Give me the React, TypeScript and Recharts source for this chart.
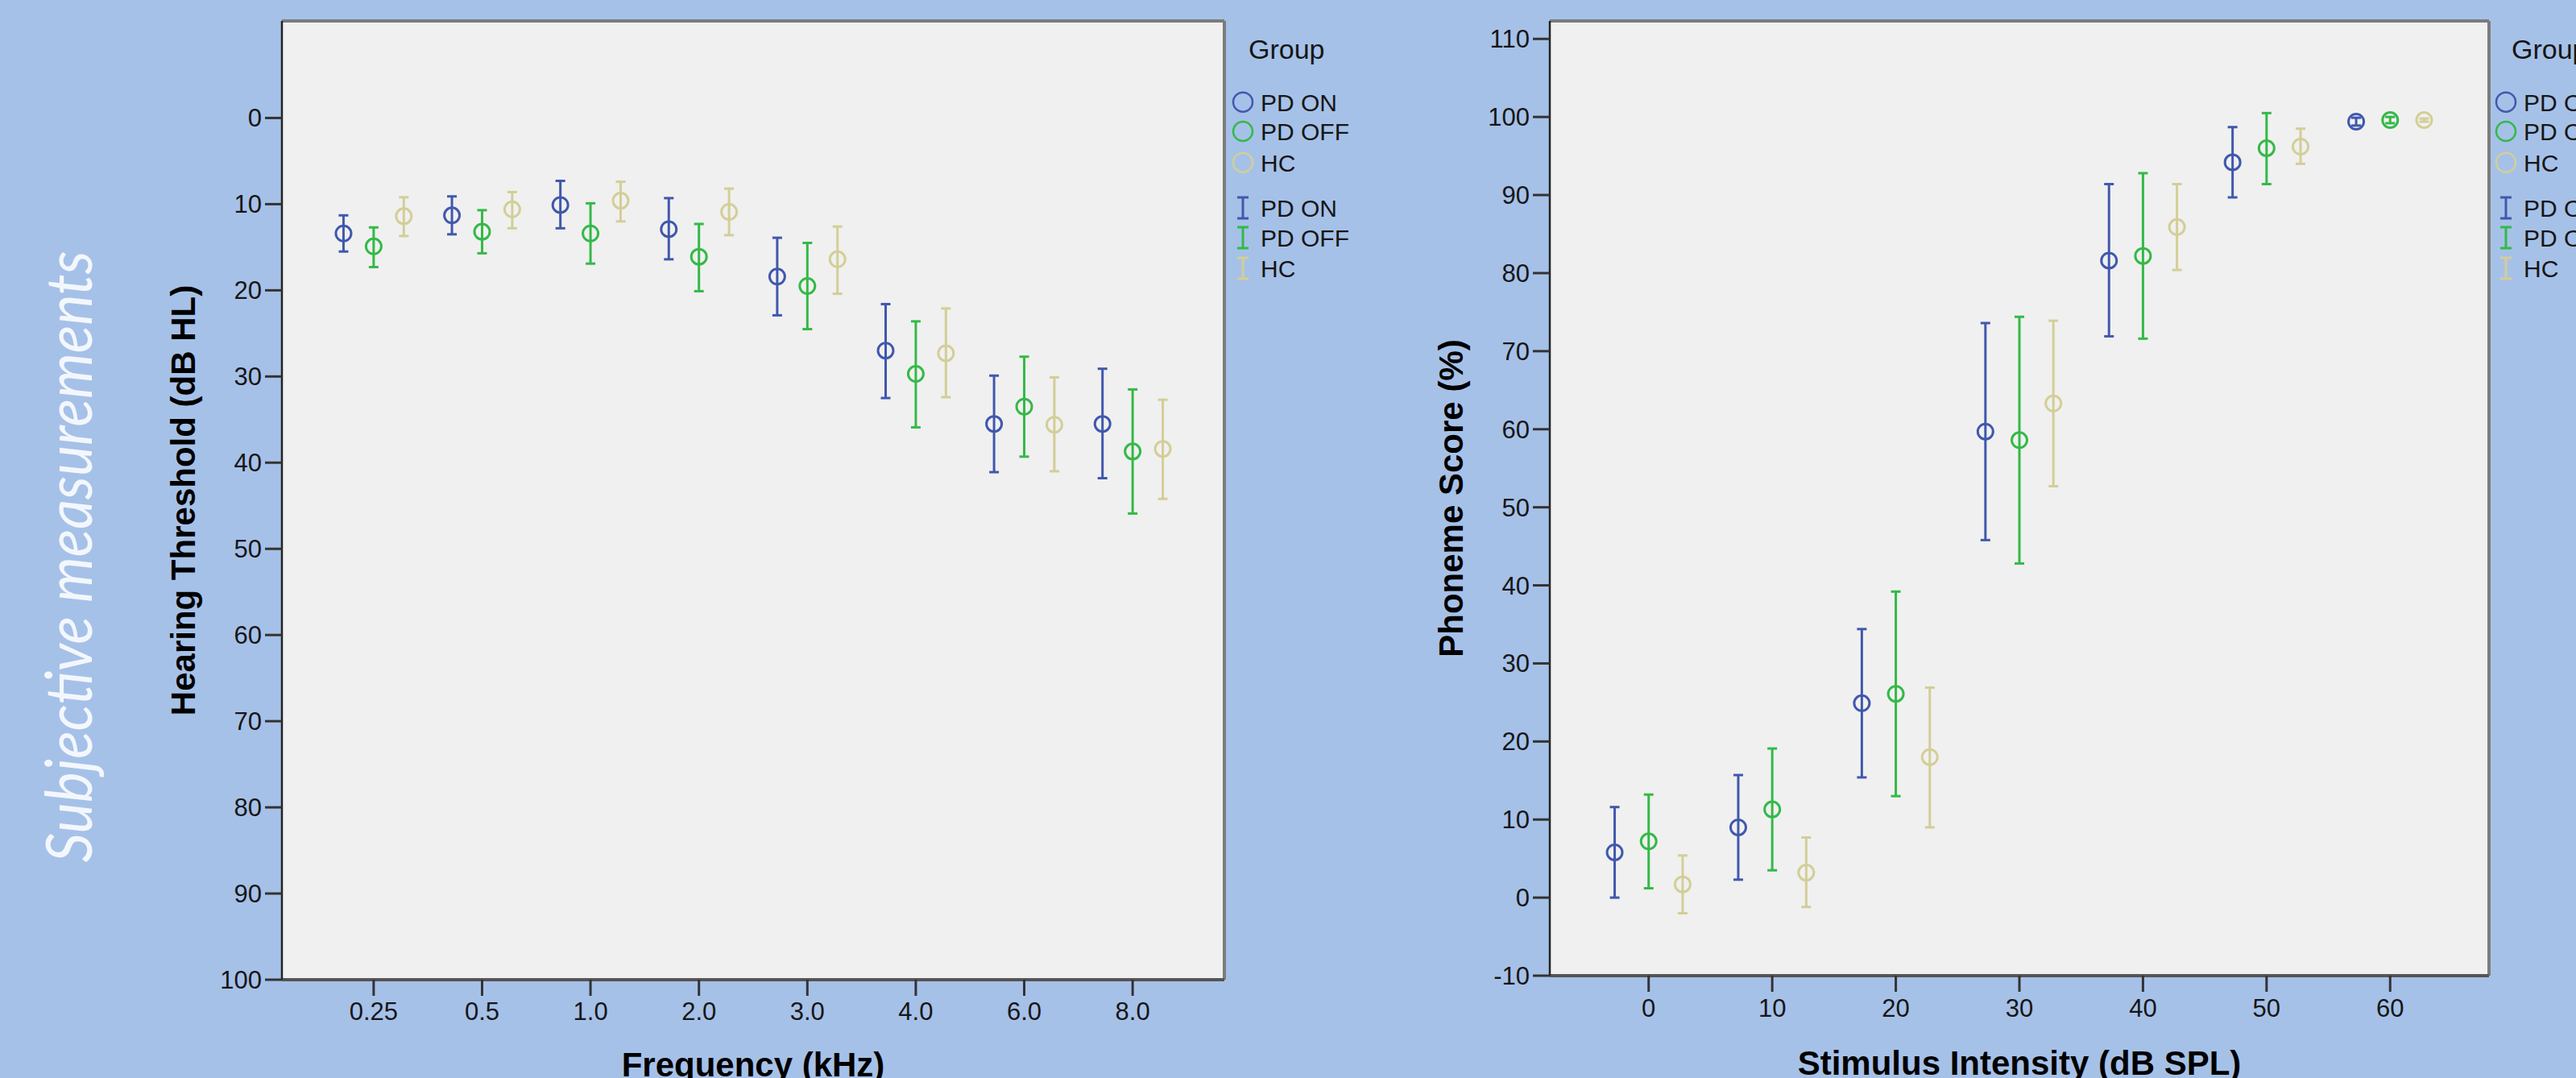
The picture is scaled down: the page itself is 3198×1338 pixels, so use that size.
import React from 'react';
import {
  ScatterChart,
  Scatter,
  XAxis,
  YAxis,
  ErrorBar,
  CartesianGrid,
  ReferenceLine,
  Legend,
} from 'recharts';

// ---------- data ----------
const groups = ['PD ON', 'PD OFF', 'HC'];
const groupColors = ['#4058ad', '#34b947', '#d3ce97'];

// Left chart: hearing threshold (dB HL) by frequency
const freqLabels = ['0.25', '0.5', '1.0', '2.0', '3.0', '4.0', '6.0', '8.0'];
const freqIndex = [0, 1, 2, 3, 4, 5, 6, 7];
const thrOnMean = [13.4, 11.3, 10.1, 12.9, 18.4, 27.0, 35.5, 35.5];
const thrOnLow = [11.3, 9.1, 7.3, 9.3, 13.9, 21.6, 29.9, 29.1];
const thrOnHigh = [15.5, 13.5, 12.8, 16.4, 22.9, 32.5, 41.1, 41.8];
const thrOffMean = [14.9, 13.2, 13.4, 16.1, 19.5, 29.7, 33.5, 38.7];
const thrOffLow = [12.7, 10.7, 9.9, 12.3, 14.5, 23.6, 27.7, 31.5];
const thrOffHigh = [17.3, 15.7, 16.9, 20.1, 24.5, 35.9, 39.3, 45.9];
const thrHcMean = [11.4, 10.6, 9.6, 10.9, 16.4, 27.3, 35.6, 38.4];
const thrHcLow = [9.2, 8.6, 7.4, 8.2, 12.6, 22.1, 30.1, 32.7];
const thrHcHigh = [13.7, 12.8, 12.0, 13.6, 20.4, 32.4, 41.0, 44.2];
const thrTicks = [0, 10, 20, 30, 40, 50, 60, 70, 80, 90, 100];

// Right chart: phoneme score (%) by stimulus intensity
const intensityLevels = [0, 10, 20, 30, 40, 50, 60];
const phOnMean = [5.8, 9.0, 24.9, 59.7, 81.6, 94.2, 99.4];
const phOnLow = [0.0, 2.3, 15.4, 45.8, 71.9, 89.7, 98.9];
const phOnHigh = [11.6, 15.7, 34.4, 73.6, 91.4, 98.7, 99.9];
const phOffMean = [7.2, 11.3, 26.1, 58.6, 82.2, 96.0, 99.6];
const phOffLow = [1.2, 3.5, 13.0, 42.8, 71.6, 91.4, 99.2];
const phOffHigh = [13.2, 19.1, 39.2, 74.4, 92.8, 100.5, 100.0];
const phHcMean = [1.7, 3.2, 18.0, 63.3, 85.9, 96.2, 99.6];
const phHcLow = [-2.0, -1.2, 9.0, 52.7, 80.4, 94.0, 99.4];
const phHcHigh = [5.4, 7.7, 26.9, 73.9, 91.4, 98.5, 99.8];
const phTicks = [-10, 0, 10, 20, 30, 40, 50, 60, 70, 80, 90, 100, 110];

// ---------- helpers ----------
const FONT = '"Liberation Sans", Arial, sans-serif';
const TEXT = '#161616';
const BG = '#a6c1e8';

type Pt = { x: number; y: number; err: [number, number] };
function buildSeries(xs: number[], dodge: number, mean: number[], lo: number[], hi: number[]): Pt[] {
  return mean.map((m, i) => ({ x: xs[i] + dodge, y: m, err: [m - lo[i], hi[i] - m] }));
}

const LEFT_DODGE = 0.278;
const RIGHT_DODGE = 2.75;

const leftSeries = [
  buildSeries(freqIndex, -LEFT_DODGE, thrOnMean, thrOnLow, thrOnHigh),
  buildSeries(freqIndex, 0, thrOffMean, thrOffLow, thrOffHigh),
  buildSeries(freqIndex, LEFT_DODGE, thrHcMean, thrHcLow, thrHcHigh),
];
const rightSeries = [
  buildSeries(intensityLevels, -RIGHT_DODGE, phOnMean, phOnLow, phOnHigh),
  buildSeries(intensityLevels, 0, phOffMean, phOffLow, phOffHigh),
  buildSeries(intensityLevels, RIGHT_DODGE, phHcMean, phHcLow, phHcHigh),
];

const makeCircle = (color: string) => (props: any) => {
  const { cx, cy } = props;
  if (cx == null || cy == null) return <g />;
  return <circle cx={cx} cy={cy} r={9.5} fill="none" stroke={color} strokeWidth={3} />;
};

const YTitle = (props: any) => {
  const { viewBox, text, baseX } = props;
  const cy = viewBox.y + viewBox.height / 2;
  return (
    <text
      x={baseX}
      y={cy}
      transform={`rotate(-90, ${baseX}, ${cy})`}
      textAnchor="middle"
      fontFamily={FONT}
      fontWeight="bold"
      fontSize={42}
      fill="#000"
    >
      {text}
    </text>
  );
};

const XTitle = (props: any) => {
  const { viewBox, text, baseY } = props;
  const cx = viewBox.x + viewBox.width / 2;
  return (
    <text x={cx} y={baseY} textAnchor="middle" fontFamily={FONT} fontWeight="bold" fontSize={42} fill="#000">
      {text}
    </text>
  );
};

const GroupLegend = () => {
  const circleRows = [86.7, 123, 161.7];
  const barRows = [218, 255, 293];
  return (
    <svg width={200} height={320} style={{ overflow: 'visible', display: 'block' }}>
      <text x={20} y={33} fontFamily={FONT} fontSize={34} fill={TEXT}>
        Group
      </text>
      {groups.map((g, i) => (
        <g key={'c' + g}>
          <circle cx={13} cy={circleRows[i]} r={12} fill="none" stroke={groupColors[i]} strokeWidth={2.5} />
          <text x={35} y={circleRows[i] + 11} fontFamily={FONT} fontSize={30} fill={TEXT}>
            {g}
          </text>
        </g>
      ))}
      {groups.map((g, i) => (
        <g key={'b' + g} stroke={groupColors[i]} strokeWidth={3}>
          <line x1={13} x2={13} y1={barRows[i] - 13} y2={barRows[i] + 13} />
          <line x1={6} x2={20} y1={barRows[i] - 13} y2={barRows[i] - 13} />
          <line x1={6} x2={20} y1={barRows[i] + 13} y2={barRows[i] + 13} />
          <text x={35} y={barRows[i] + 11} fontFamily={FONT} fontSize={30} fill={TEXT} stroke="none">
            {g}
          </text>
        </g>
      ))}
    </svg>
  );
};

const tickStyle = { fontSize: 31, fill: TEXT, fontFamily: FONT };

// ---------- charts ----------
const LEFT_Y_DOMAIN: [number, number] = [-11.26, 100];
const LEFT_X_DOMAIN: [number, number] = [-0.846, 7.846];
const RIGHT_Y_DOMAIN: [number, number] = [-10, 112.3];
const RIGHT_X_DOMAIN: [number, number] = [-8, 68];

function LeftChart() {
  return (
    <ScatterChart width={1720} height={1338} margin={{ top: 26, right: 200, left: 0, bottom: 0 }}>
      <CartesianGrid fill="#f0f0f0" horizontal={false} vertical={false} stroke="none" />
      <XAxis
        type="number"
        dataKey="x"
        domain={LEFT_X_DOMAIN}
        allowDataOverflow
        ticks={freqIndex}
        tickFormatter={(v: number) => freqLabels[Math.round(v)] ?? ''}
        height={122}
        tickSize={20}
        tickMargin={8}
        tick={tickStyle}
        tickLine={{ stroke: '#333', strokeWidth: 3 }}
        axisLine={{ stroke: '#555', strokeWidth: 4 }}
        label={<XTitle text="Frequency (kHz)" baseY={1336} />}
      />
      <YAxis
        type="number"
        dataKey="y"
        domain={LEFT_Y_DOMAIN}
        reversed
        allowDataOverflow
        ticks={thrTicks}
        width={350}
        tickSize={21}
        tickMargin={4}
        tick={tickStyle}
        tickLine={{ stroke: '#333', strokeWidth: 3 }}
        axisLine={{ stroke: '#222', strokeWidth: 2.5 }}
        label={<YTitle text="Hearing Threshold (dB HL)" baseX={242} />}
      />
      <ReferenceLine y={LEFT_Y_DOMAIN[0]} stroke="#7c7c7c" strokeWidth={4} />
      <ReferenceLine x={LEFT_X_DOMAIN[1]} stroke="#7c7c7c" strokeWidth={4} />
      {groups.map((g, i) => (
        <Scatter
          key={g}
          name={g}
          data={leftSeries[i]}
          isAnimationActive={false}
          shape={makeCircle(groupColors[i])}
        >
          <ErrorBar
            dataKey="err"
            direction="y"
            width={6}
            stroke={groupColors[i]}
            strokeWidth={3}
            isAnimationActive={false}
          />
        </Scatter>
      ))}
      <Legend
        layout="vertical"
        align="center"
        verticalAlign="middle"
        content={() => <GroupLegend />}
        wrapperStyle={{ left: 1530, top: 40, width: 200, height: 320 }}
      />
    </ScatterChart>
  );
}

function RightChart() {
  return (
    <ScatterChart width={1478} height={1338} margin={{ top: 26, right: 108, left: 0, bottom: 0 }}>
      <CartesianGrid fill="#f0f0f0" horizontal={false} vertical={false} stroke="none" />
      <XAxis
        type="number"
        dataKey="x"
        domain={RIGHT_X_DOMAIN}
        allowDataOverflow
        ticks={intensityLevels}
        height={127}
        tickSize={20}
        tickMargin={9}
        tick={tickStyle}
        tickLine={{ stroke: '#333', strokeWidth: 3 }}
        axisLine={{ stroke: '#555', strokeWidth: 4 }}
        label={<XTitle text="Stimulus Intensity (dB SPL)" baseY={1334} />}
      />
      <YAxis
        type="number"
        dataKey="y"
        domain={RIGHT_Y_DOMAIN}
        allowDataOverflow
        ticks={phTicks}
        width={204}
        tickSize={21}
        tickMargin={4}
        tick={tickStyle}
        tickLine={{ stroke: '#333', strokeWidth: 3 }}
        axisLine={{ stroke: '#222', strokeWidth: 2.5 }}
        label={<YTitle text="Phoneme Score (%)" baseX={96} />}
      />
      <ReferenceLine y={RIGHT_Y_DOMAIN[1]} stroke="#7c7c7c" strokeWidth={4} />
      <ReferenceLine x={RIGHT_X_DOMAIN[1]} stroke="#7c7c7c" strokeWidth={4} />
      {groups.map((g, i) => (
        <Scatter
          key={g}
          name={g}
          data={rightSeries[i]}
          isAnimationActive={false}
          shape={makeCircle(groupColors[i])}
        >
          <ErrorBar
            dataKey="err"
            direction="y"
            width={6}
            stroke={groupColors[i]}
            strokeWidth={3}
            isAnimationActive={false}
          />
        </Scatter>
      ))}
      <Legend
        layout="vertical"
        align="center"
        verticalAlign="middle"
        content={() => <GroupLegend />}
        wrapperStyle={{ left: 1378, top: 40, width: 200, height: 320 }}
      />
    </ScatterChart>
  );
}

export default function App() {
  return (
    <div
      style={{
        position: 'fixed',
        left: 0,
        top: 0,
        width: 3198,
        height: 1338,
        overflow: 'hidden',
        background: BG,
      }}
    >
      <svg width={200} height={1338} style={{ position: 'absolute', left: 0, top: 0 }}>
        <text
          x={114}
          y={691}
          transform="rotate(-90, 114, 691)"
          textAnchor="middle"
          fontFamily="Lato, 'Open Sans', sans-serif"
          fontStyle="italic"
          fontWeight={400}
          fontSize={80}
          textLength={759}
          lengthAdjust="spacingAndGlyphs"
          fill="#f3f7fd"
        >
          Subjective measurements
        </text>
      </svg>
      <div style={{ position: 'absolute', left: 0, top: 0 }}>
        <LeftChart />
      </div>
      <div style={{ position: 'absolute', left: 1720, top: 0 }}>
        <RightChart />
      </div>
    </div>
  );
}
